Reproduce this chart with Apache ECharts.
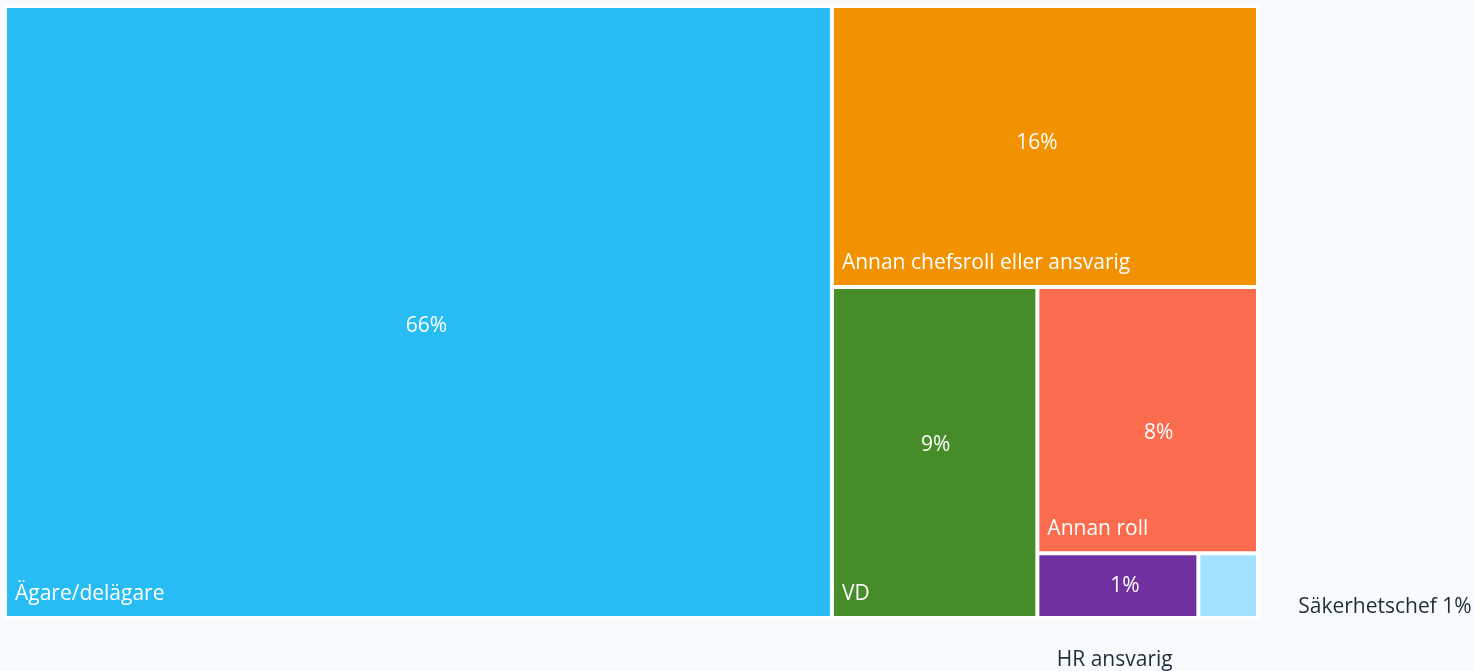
<!DOCTYPE html>
<html><head><meta charset="utf-8">
<script src="https://cdn.jsdelivr.net/npm/echarts@6/dist/echarts.min.js"></script>
<style>html,body{margin:0;padding:0;background:#f7fbfe;}#c{width:1474px;height:671px;}</style>
</head><body><div id="c"></div>
<script>
const categories = ['Ägare/delägare', 'Annan chefsroll eller ansvarig', 'VD', 'Annan roll', 'HR ansvarig', 'Säkerhetschef'];
const values = [65.5, 15.5, 8.8, 7.6, 1.35, 0.5];
const colors = ['#27bcf4', '#f39200', '#468c29', '#fb6b4e', '#7030a0', '#a2e1ff'];
const FONT = '"Open Sans", sans-serif';
const total = values.reduce((a, b) => a + b, 0);
const pct = v => Math.round(v / total * 100) + '%';

// label offsets (style only)
const pctOffsets = [[8, 14], [-8, -4], [1, -8], [11, 13], [7, 0], [0, 0]];

const geom = {left: 3, top: 4, width: 1257, height: 616};
const rootLevel = {itemStyle: {borderWidth: 4, borderColor: '#ffffff', gapWidth: 4}};

const fillData = categories.map((n, i) => ({
  name: n, value: values[i],
  itemStyle: {color: colors[i], borderWidth: 0},
  label: {show: i !== 5, offset: pctOffsets[i]}
}));

const nameData = categories.map((n, i) => {
  const d = {name: n, value: values[i], itemStyle: {color: 'rgba(0,0,0,0)', borderWidth: 0}};
  if (i === 4) {
    d.label = {position: ['48%', '173%'], align: 'center', verticalAlign: 'middle', color: '#1f2d3a', overflow: 'none', lineHeight: 22, formatter: '{b}'};
  } else if (i === 5) {
    d.label = {position: ['176%', '86%'], align: 'left', verticalAlign: 'middle', color: '#1f2d3a', overflow: 'none', lineHeight: 22, formatter: p => p.name + ' ' + pct(p.value)};
  }
  return d;
});

const common = Object.assign({
  type: 'treemap', roam: false, nodeClick: false, squareRatio: 1,
  breadcrumb: {show: false}, animation: false,
  levels: [rootLevel, {itemStyle: {borderWidth: 0, gapWidth: 0}}]
}, geom);

const chart = echarts.init(document.getElementById('c'));
chart.setOption({
  backgroundColor: '#f7fbfe',
  series: [
    Object.assign({}, common, {
      data: fillData,
      label: {show: true, position: 'inside', color: '#ffffff', fontFamily: FONT, fontSize: 21,
        formatter: p => pct(p.value)}
    }),
    Object.assign({}, common, {
      silent: true,
      data: nameData,
      label: {show: true, position: 'insideBottomLeft', distance: 8, padding: 0, lineHeight: 28, color: '#ffffff', fontFamily: FONT, fontSize: 21,
        formatter: '{b}'}
    })
  ]
});
</script></body></html>
